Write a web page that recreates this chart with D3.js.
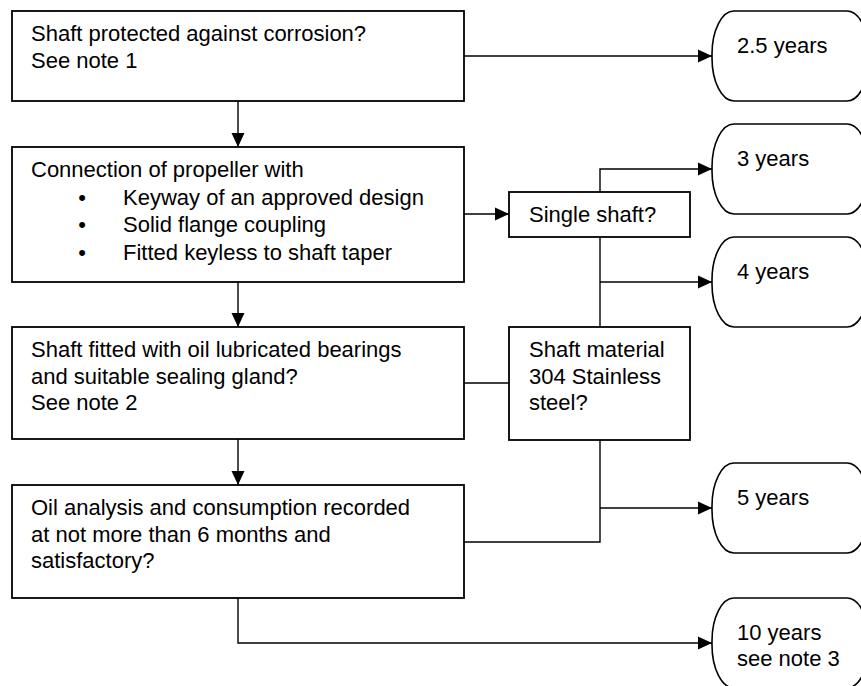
<!DOCTYPE html>
<html>
<head>
<meta charset="utf-8">
<script src="https://cdn.jsdelivr.net/npm/d3@7"></script>
<style>
  html, body { margin: 0; padding: 0; background: #fff; }
  svg { display: block; }
  text { font-family: Arial, "Liberation Sans", sans-serif; font-size: 22px; fill: #000; }
</style>
</head>
<body>
<svg id="chart" width="861" height="686"></svg>
<script>
// ---------------- data ----------------
const mainSteps = [
  ["Shaft protected against corrosion?", "See note 1"],
  ["Connection of propeller with"],
  ["Shaft fitted with oil lubricated bearings", "and suitable sealing gland?", "See note 2"],
  ["Oil analysis and consumption recorded", "at not more than 6 months and", "satisfactory?"]
];
const connectionBullets = ["Keyway of an approved design", "Solid flange coupling", "Fitted keyless to shaft taper"];
const sideChecks = [
  ["Single shaft?"],
  ["Shaft material", "304 Stainless", "steel?"]
];
const outcomes = [
  ["2.5 years"],
  ["3 years"],
  ["4 years"],
  ["5 years"],
  ["10 years", "see note 3"]
];

// ---------------- layout ----------------
const svg = d3.select("#chart");
const col = d3.scaleOrdinal().domain(["main", "side", "out"]).range([12, 509, 712]);
const colW = d3.scaleOrdinal().domain(["main", "side", "out"]).range([452, 181, 157]);
const y = d3.scaleLinear().domain([0, 686]).range([0, 686]);
const mainRows = [[11, 101], [147, 282], [327, 439], [485, 598]];
const sideRows = [[192, 237], [327, 440]];
const outRows = [[11, 101], [124, 214], [237, 327], [463, 553], [598, 688]];
const lineH = 26.5;

const gLines = svg.append("g");
const gShapes = svg.append("g");

function box(x, y0, y1, w) {
  gShapes.append("rect")
    .attr("x", x).attr("y", y(y0)).attr("width", w).attr("height", y(y1) - y(y0))
    .attr("fill", "#fff").attr("stroke", "#000").attr("stroke-width", 1.8);
}
function lines(x, yBase, arr) {
  const t = gShapes.append("text").attr("x", x).attr("y", y(yBase));
  arr.forEach((s, i) => t.append("tspan").attr("x", x).attr("y", y(yBase) + i * lineH).text(s));
}

// main boxes
mainSteps.forEach((lbl, i) => {
  const [t0, t1] = mainRows[i];
  box(col("main"), t0, t1, colW("main"));
  lines(col("main") + 19, t0 + 30, lbl);
});
// bullets in the 2nd box
connectionBullets.forEach((s, i) => {
  const yy = mainRows[1][0] + 30 + (i + 1) * 27.7;
  gShapes.append("text").attr("x", 82).attr("y", y(yy)).attr("text-anchor", "middle").text("\u2022");
  gShapes.append("text").attr("x", 123).attr("y", y(yy)).text(s);
});
// side boxes
sideChecks.forEach((lbl, i) => {
  const [t0, t1] = sideRows[i];
  box(col("side"), t0, t1, colW("side"));
  lines(col("side") + 20, t0 + 30, lbl);
});
// outcomes (terminators)
outRows.forEach(([t0, t1], i) => {
  gShapes.append("rect")
    .attr("x", col("out")).attr("y", y(t0)).attr("width", colW("out")).attr("height", y(t1) - y(t0))
    .attr("rx", 22).attr("ry", 43)
    .attr("fill", "#fff").attr("stroke", "#000").attr("stroke-width", 1.6);
  lines(col("out") + 25, t0 + 41.5, outcomes[i]);
});

// ---------------- connectors ----------------
const mainCx = col("main") + colW("main") / 2;
const mainR = col("main") + colW("main");
const sideCx = col("side") + colW("side") / 2 + 0.5;
const sideL = col("side");
const outL = col("out");
const mid = r => (r[0] + r[1]) / 2;

function poly(pts, arrow) {
  gLines.append("path")
    .attr("d", d3.line()(pts.map(p => [p[0], y(p[1])])))
    .attr("fill", "none").attr("stroke", "#000").attr("stroke-width", 1.4);
  if (arrow) {
    const [x1, y1] = pts[pts.length - 1];
    const [x0, y0] = pts[pts.length - 2];
    const ang = Math.atan2(y(y1) - y(y0), x1 - x0);
    const L = 14, W = 6.5;
    const tip = [x1, y(y1)];
    const bx = x1 - L * Math.cos(ang), by = y(y1) - L * Math.sin(ang);
    const p1 = [bx + W * Math.sin(ang), by - W * Math.cos(ang)];
    const p2 = [bx - W * Math.sin(ang), by + W * Math.cos(ang)];
    gShapes.append("path").attr("d", "M" + tip + "L" + p1 + "L" + p2 + "Z").attr("fill", "#000");
  }
}

// main vertical flow
for (let i = 0; i < mainRows.length - 1; i++) {
  poly([[mainCx, mainRows[i][1]], [mainCx, mainRows[i + 1][0]]], true);
}
// box1 -> 2.5 years
poly([[mainR, mid(outRows[0])], [outL, mid(outRows[0])]], true);
// box2 -> single shaft
poly([[mainR, mid(sideRows[0]) - 0.5], [sideL, mid(sideRows[0]) - 0.5]], true);
// single shaft -> 3 years
poly([[sideCx, sideRows[0][0]], [sideCx, mid(outRows[1])], [outL, mid(outRows[1])]], true);
// single shaft -> shaft material, branch to 4 years
poly([[sideCx, sideRows[0][1]], [sideCx, sideRows[1][0]]], false);
poly([[sideCx, mid(outRows[2])], [outL, mid(outRows[2])]], true);
// box3 -> shaft material
poly([[mainR, 383], [sideL, 383]], false);
// shaft material / box4 -> 5 years
poly([[sideCx, sideRows[1][1]], [sideCx, 542], [mainR, 542]], false);
poly([[sideCx, mid(outRows[3])], [outL, mid(outRows[3])]], true);
// box4 -> 10 years
poly([[mainCx, mainRows[3][1]], [mainCx, mid(outRows[4])], [outL, mid(outRows[4])]], true);
</script>
</body>
</html>
